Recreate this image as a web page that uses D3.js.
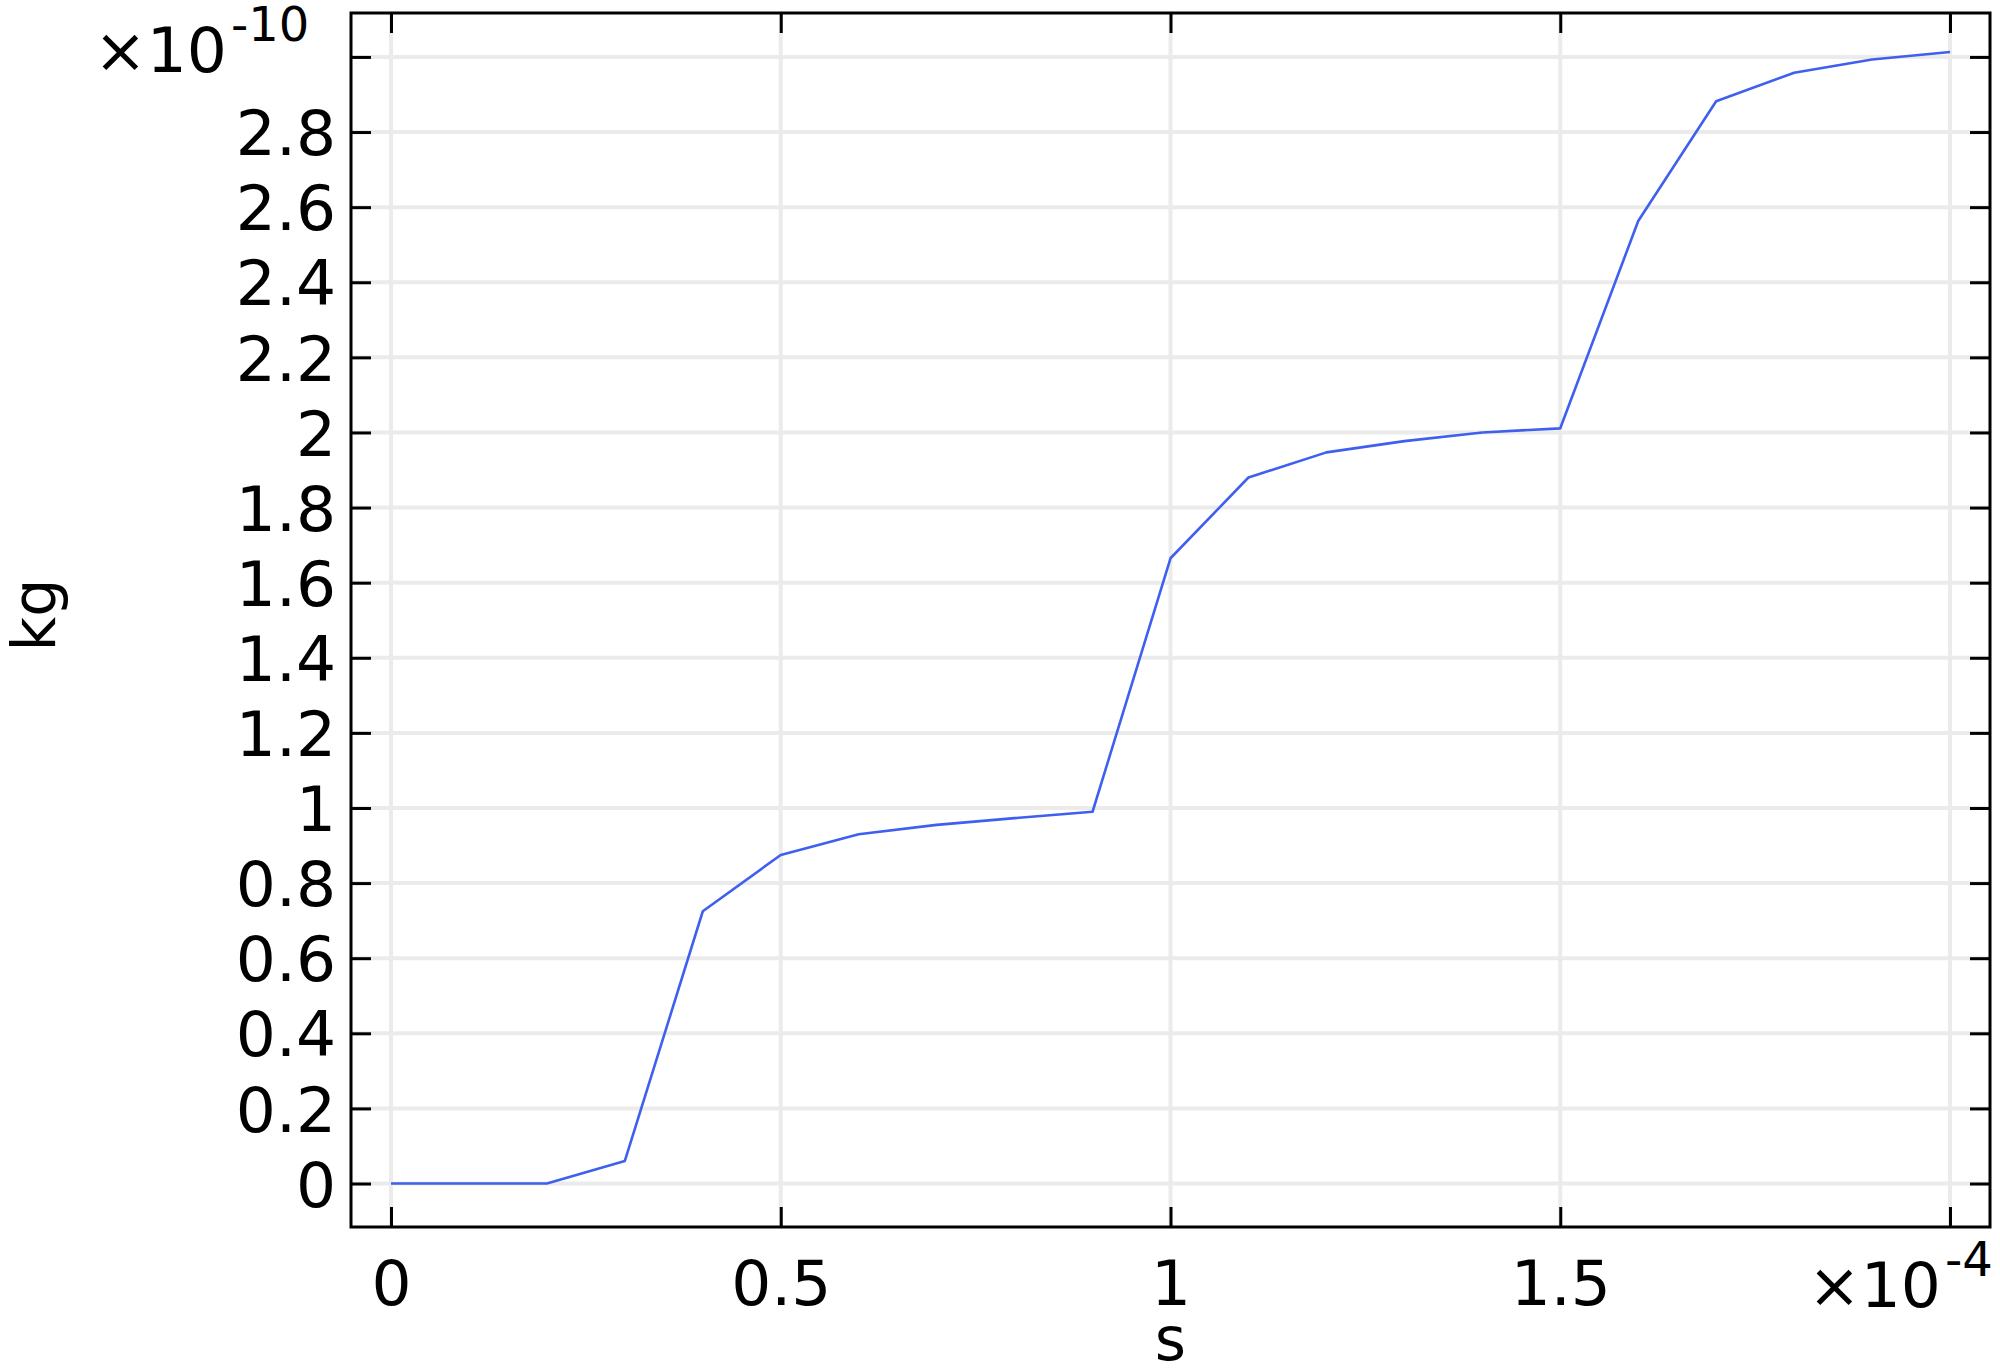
<!DOCTYPE html>
<html>
<head>
<meta charset="utf-8">
<script src="https://cdn.jsdelivr.net/npm/d3@7"></script>
<style>
  body { margin: 0; background: #fff; }
  svg text { font-family: "DejaVu Sans", sans-serif; fill: #000; }
</style>
</head>
<body>
<svg id="chart" width="2000" height="1368"></svg>
<script>
// time in units of 1e-4 s
var times = [0, 0.1, 0.2, 0.3, 0.4, 0.5, 0.6, 0.7, 0.8, 0.9, 1.0,
             1.1, 1.2, 1.3, 1.4, 1.5, 1.6, 1.7, 1.8, 1.9, 2.0];
// mass in units of 1e-10 kg
var mass = [0, 0, 0, 0.06, 0.725, 0.875, 0.93, 0.955, 0.973, 0.99, 1.665,
            1.88, 1.947, 1.977, 2.0, 2.011, 2.563, 2.882, 2.958, 2.993, 3.013];

var xTicks = [0, 0.5, 1, 1.5, 2];
var xLabels = ["0", "0.5", "1", "1.5", ""];
var yTicks = [0, 0.2, 0.4, 0.6, 0.8, 1, 1.2, 1.4, 1.6, 1.8, 2, 2.2, 2.4, 2.6, 2.8, 3];
var yLabels = ["0", "0.2", "0.4", "0.6", "0.8", "1", "1.2", "1.4", "1.6", "1.8",
               "2", "2.2", "2.4", "2.6", "2.8", ""];

var plotLeft = 351, plotRight = 1990, plotTop = 13, plotBottom = 1227;

var x = d3.scaleLinear().domain([-0.0513, 2.0513]).range([plotLeft, plotRight]);
var y = d3.scaleLinear().domain([-0.1158, 3.117]).range([plotBottom, plotTop]);

var svg = d3.select("#chart");

// grid
svg.append("g").selectAll("line").data(yTicks).join("line")
  .attr("x1", plotLeft).attr("x2", plotRight)
  .attr("y1", d => y(d)).attr("y2", d => y(d))
  .attr("stroke", "#ebebeb").attr("stroke-width", 4);
svg.append("g").selectAll("line").data(xTicks).join("line")
  .attr("y1", plotTop).attr("y2", plotBottom)
  .attr("x1", d => x(d)).attr("x2", d => x(d))
  .attr("stroke", "#ebebeb").attr("stroke-width", 4);

// data line
var line = d3.line().x((d, i) => x(times[i])).y(d => y(d));
svg.append("path").datum(mass)
  .attr("d", line)
  .attr("fill", "none")
  .attr("stroke", "#3f5fef")
  .attr("stroke-width", 2.6)
  .attr("stroke-linejoin", "round");

// axes, ticks pointing inward
function styleAxis(g) {
  g.select(".domain").remove();
  g.selectAll(".tick line").attr("stroke", "#000").attr("stroke-width", 3);
  g.selectAll(".tick text").attr("font-size", 63).attr("font-family", "DejaVu Sans");
}

svg.append("g").attr("transform", "translate(" + plotLeft + ",0)")
  .call(d3.axisLeft(y).tickValues(yTicks).tickSize(-20).tickPadding(15)
    .tickFormat((d, i) => yLabels[i]))
  .call(styleAxis)
  .selectAll(".tick text").attr("dy", "0.36em");

svg.append("g").attr("transform", "translate(" + plotRight + ",0)")
  .call(d3.axisRight(y).tickValues(yTicks).tickSize(-20).tickFormat(""))
  .call(styleAxis);

svg.append("g").attr("transform", "translate(0," + plotBottom + ")")
  .call(d3.axisBottom(x).tickValues(xTicks).tickSize(-20).tickPadding(33)
    .tickFormat((d, i) => xLabels[i]))
  .call(styleAxis);

svg.append("g").attr("transform", "translate(0," + plotTop + ")")
  .call(d3.axisTop(x).tickValues(xTicks).tickSize(-20).tickFormat(""))
  .call(styleAxis);

// frame
svg.append("rect")
  .attr("x", plotLeft).attr("y", plotTop)
  .attr("width", plotRight - plotLeft).attr("height", plotBottom - plotTop)
  .attr("fill", "none").attr("stroke", "#000").attr("stroke-width", 3);

// exponent labels
var yExp = svg.append("text").attr("x", 94).attr("y", 72).attr("font-size", 63);
yExp.append("tspan").text("×10");
yExp.append("tspan").attr("font-size", 48).attr("dy", -31).attr("dx", 4).text("-10");

var xExp = svg.append("text").attr("x", 1808).attr("y", 1307).attr("font-size", 63);
xExp.append("tspan").text("×10");
xExp.append("tspan").attr("font-size", 48).attr("dy", -31).attr("dx", 4).text("-4");

// axis titles
svg.append("text")
  .attr("transform", "translate(55,615) rotate(-90)")
  .attr("text-anchor", "middle")
  .attr("font-size", 60)
  .text("kg");

svg.append("text")
  .attr("x", x(1)).attr("y", 1360)
  .attr("text-anchor", "middle")
  .attr("font-size", 60)
  .text("s");
</script>
</body>
</html>
